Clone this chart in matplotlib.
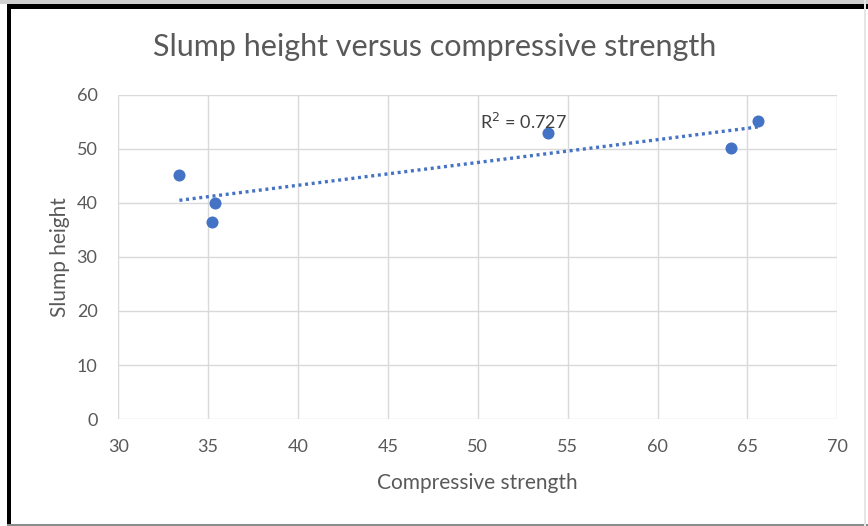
import matplotlib
matplotlib.use("Agg")
import matplotlib.pyplot as plt
from matplotlib.patches import Rectangle
import numpy as np

plt.rcParams['font.family'] = ['Lato', 'DejaVu Sans']

title = "Slump height versus compressive strength"
x_label = "Compressive strength"
y_label = "Slump height"
compressive_strength = [33.4, 35.2, 35.4, 53.9, 64.1, 65.6]
slump_height = [45.1, 36.4, 40.0, 53.0, 50.1, 55.2]
r2_label = "R$^2$ = 0.727"
x_ticks = [30, 35, 40, 45, 50, 55, 60, 65, 70]
y_ticks = [0, 10, 20, 30, 40, 50, 60]

W, H = 868, 526
fig = plt.figure(figsize=(W / 100, H / 100), dpi=100)
fig.patch.set_facecolor('white')

# frame around the image
fig.add_artist(Rectangle((7 / W, 0), 4 / W, 1 - 4 / H, transform=fig.transFigure,
                         facecolor='black', edgecolor='none'))
fig.add_artist(Rectangle((7 / W, 1 - 8.5 / H), 1, 4.5 / H, transform=fig.transFigure,
                         facecolor='black', edgecolor='none'))
fig.add_artist(Rectangle((0, 1 - 4 / H), 1, 4 / H, transform=fig.transFigure,
                         facecolor='#d0d0d0', edgecolor='none'))
fig.add_artist(Rectangle((7 / W, 0), 1, 2.5 / H, transform=fig.transFigure,
                         facecolor='#8c8c8c', edgecolor='none'))
fig.add_artist(Rectangle((864 / W, 0), 1.5 / W, 1, transform=fig.transFigure,
                         facecolor='#e6e6e6', edgecolor='none'))

left, right = 118.3 / W, 837.3 / W
bottom, top = 1 - 419 / H, 1 - 95 / H
ax = fig.add_axes([left, bottom, right - left, top - bottom])
ax.set_xlim(30, 70)
ax.set_ylim(0, 60)
ax.set_xticks(x_ticks)
ax.set_yticks(y_ticks)
for s in ax.spines.values():
    s.set_visible(False)
ax.grid(True, color='#d9d9d9', linewidth=1.0)
ax.set_axisbelow(True)
ax.tick_params(length=0, colors='#595959', labelsize=13)
ax.tick_params(axis='x', pad=14.5)
ax.tick_params(axis='y', pad=15)

blue = '#4472C4'
ax.scatter(compressive_strength, slump_height, s=75, color=blue, zorder=3, linewidths=0)

xs = np.array(compressive_strength)
ys = np.array(slump_height)
m, b = np.polyfit(xs, ys, 1)
xl = np.array([xs.min(), xs.max()])
ax.plot(xl, m * xl + b, color=blue, linewidth=2.4, linestyle=(0, (0.9, 1.1)), zorder=2)

ax.text(50.1, 55.0, r2_label, fontsize=13, color='#404040', va='center', ha='left', zorder=4)

ax.set_xlabel(x_label, fontsize=15, color='#595959', labelpad=13)
ax.set_ylabel(y_label, fontsize=15, color='#595959', labelpad=4.5)

fig.text(435 / W, 1 - 47 / H, title, fontsize=22, color='#595959', ha='center', va='center')

fig.savefig('out.png', dpi=100)
